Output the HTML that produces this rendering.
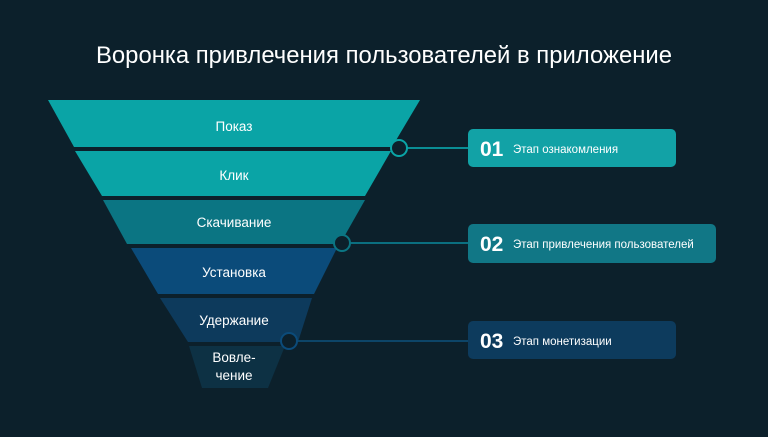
<!DOCTYPE html>
<html><head><meta charset="utf-8"><style>
body{margin:0;width:768px;height:432px;background:#0c202b;overflow:hidden;font-family:"Liberation Sans","DejaVu Sans",sans-serif}
</style></head><body>
<svg width="768" height="432" xmlns="http://www.w3.org/2000/svg" font-family="Liberation Sans, DejaVu Sans, sans-serif">
<rect width="768" height="432" fill="#0c202b"/>
<text x="384" y="63" fill="#ffffff" font-size="24" text-anchor="middle" textLength="576" lengthAdjust="spacingAndGlyphs">Воронка привлечения пользователей в приложение</text>
<polygon points="48,100 420,100 392,147 74,147" fill="#0aa4a6"/>
<polygon points="75,151 391,151 365,196 102,196" fill="#0aa4a6"/>
<polygon points="103,200 365,200 340,244 127,244" fill="#0b7583"/>
<polygon points="131,248 337,248 314,294 158,294" fill="#0b4b7a"/>
<polygon points="160,298 312,298 298,342 188,342" fill="#0d3a5c"/>
<polygon points="189,346 285,346 268,388 202,388" fill="#0d3144"/>
<g fill="#ffffff" font-size="13.5" text-anchor="middle">
<text x="234" y="131">Показ</text>
<text x="234" y="180">Клик</text>
<text x="234" y="227">Скачивание</text>
<text x="234" y="277">Установка</text>
<text x="234" y="325">Удержание</text>
<text x="234" y="362">Вовле-</text>
<text x="234" y="380">чение</text>
</g>
<line x1="399" y1="148" x2="468" y2="148" stroke="#0a8e95" stroke-width="2"/>
<line x1="342" y1="243" x2="468" y2="243" stroke="#0b6f80" stroke-width="2"/>
<line x1="289" y1="341" x2="468" y2="341" stroke="#0d4568" stroke-width="2"/>
<circle cx="399" cy="148" r="8" fill="#0c202b" stroke="#0aa4a6" stroke-width="2"/>
<circle cx="342" cy="243" r="8" fill="#0c202b" stroke="#0b7583" stroke-width="2"/>
<circle cx="289" cy="341" r="8" fill="#0c202b" stroke="#0b4b7a" stroke-width="2"/>
<rect x="468" y="129" width="208" height="38" rx="5" fill="#12a2a6"/>
<rect x="468" y="224" width="248" height="39" rx="5" fill="#117786"/>
<rect x="468" y="321" width="208" height="38" rx="5" fill="#0d3b5d"/>
<g fill="#ffffff">
<text x="480" y="156" font-size="21" font-weight="bold">01</text>
<text x="513" y="153" font-size="11.5">Этап ознакомления</text>
<text x="480" y="251" font-size="21" font-weight="bold">02</text>
<text x="513" y="248" font-size="11.5">Этап привлечения пользователей</text>
<text x="480" y="348" font-size="21" font-weight="bold">03</text>
<text x="513" y="345" font-size="11.5">Этап монетизации</text>
</g>
</svg>
</body></html>
